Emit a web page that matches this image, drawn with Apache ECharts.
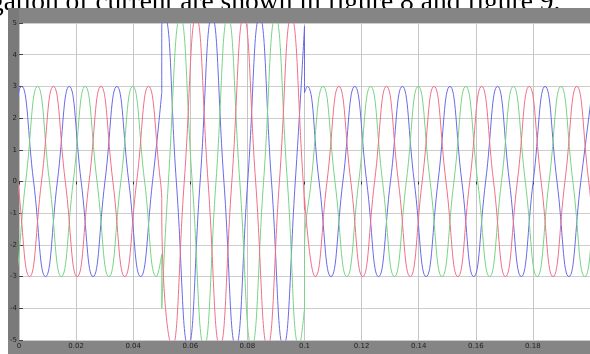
<!DOCTYPE html>
<html>
<head>
<meta charset="utf-8">
<script src="https://cdn.jsdelivr.net/npm/echarts@6/dist/echarts.min.js"></script>
<style>
  html, body { margin: 0; padding: 0; background: #ffffff; }
  #chart { width: 590px; height: 354px; }
</style>
</head>
<body>
<div id="chart"></div>
<script>
// Axis ticks: time in seconds, current in per-unit
const timeTicks = [0, 0.02, 0.04, 0.06, 0.08, 0.1, 0.12, 0.14, 0.16, 0.18, 0.2];
const currentTicks = [-5, -4, -3, -2, -1, 0, 1, 2, 3, 4, 5];

const phaseNames = ['Phase A', 'Phase B', 'Phase C'];
const lineFrequency = 60;                       // Hz
const firstPeakTime = [0.00094, 0.0065, 0.01205]; // first positive peak of each phase (s)
const switchTimes = [0.05, 0.1];                // fault inception, fault clearing (s)

// Signed peak of each half cycle, starting two half cycles before the first positive peak
const peaksA = [3, -3, 3, -3, 3, -3, 3, -3,
                5.2, -5.2, 5.2, -5.2, 5.2, -5.2,
                3, -3, 3, -3, 3, -3, 3, -3, 3, -3, 3, -3, 3];
const peaksB = [3, -3, 3, -3, 3, -3, 3, -3,
                5.2, -5.2, 5.2, -5.2, 5.2, -5.2,
                3, -3, 3, -3, 3, -3, 3, -3, 3, -3, 3, -3, 3];
const peaksC = [3, -3, 3, -3, 3, -3, 3,
                -5.2, 5.2, -5.2, 5.2, -5.2, 5.2,
                -3, 3, -3, 3, -3, 3, -3, 3, -3, 3, -3, 3, -3, 3];

// Instantaneous current on either side of each switching instant
const onsetBefore = [2.8, -2.3, -0.5];
const onsetAfter  = [4.9, -4.0, -0.9];
const clearBefore = [4.9, -4.0, -0.9];
const clearAfter  = [2.8, -2.3, -0.5];

const phasePeaks = [peaksA, peaksB, peaksC];
const phaseColors = ['#6a6ae8', '#78d484', '#f07088'];

// Quarter-cycle points (peaks and zero crossings) split at the switching instants
function phaseData(p) {
  const half = 1 / lineFrequency / 2;
  const pts = [];
  phasePeaks[p].forEach(function (v, i) {
    const t = firstPeakTime[p] + (i - 2) * half;
    pts.push([t, v]);
    if (i < phasePeaks[p].length - 1) pts.push([t + half / 2, 0]);
  });
  const t1 = switchTimes[0], t2 = switchTimes[1];
  const pre = pts.filter(function (d) { return d[0] < t1; });
  const fault = pts.filter(function (d) { return d[0] > t1 && d[0] < t2; });
  const post = pts.filter(function (d) { return d[0] > t2; });
  return [].concat(
    pre, [[t1, onsetBefore[p]], [t1, null]],
    [[t1, onsetBefore[p]], [t1, onsetAfter[p]]], fault, [[t2, clearBefore[p]], [t2, null]],
    [[t2, clearBefore[p]], [t2, clearAfter[p]]], post
  );
}

const chart = echarts.init(document.getElementById('chart'), null, { renderer: 'canvas' });

const frameGray = '#858585';
chart.setOption({
  animation: false,
  backgroundColor: '#ffffff',
  grid: { left: 19, top: 23, width: 575, height: 317, show: false },
  xAxis: {
    type: 'value',
    min: timeTicks[0],
    max: timeTicks[timeTicks.length - 1],
    interval: timeTicks[1] - timeTicks[0],
    axisLine: { show: false },
    axisTick: { show: true, inside: false, length: 3, lineStyle: { color: '#333' } },
    axisLabel: {
      margin: 3, fontSize: 7, color: '#222', fontFamily: 'DejaVu Sans',
      showMaxLabel: false,
      formatter: function (v) { return String(+v.toFixed(2)); }
    },
    splitLine: { show: true, lineStyle: { color: '#c6c6c6', width: 1 } }
  },
  yAxis: {
    type: 'value',
    min: currentTicks[0],
    max: currentTicks[currentTicks.length - 1],
    interval: currentTicks[1] - currentTicks[0],
    axisLine: { show: false },
    axisTick: { show: true, inside: true, length: 4, lineStyle: { color: '#444' } },
    axisLabel: { margin: 2, fontSize: 7, color: '#222', fontFamily: 'DejaVu Sans' },
    splitLine: { show: true, lineStyle: { color: '#cdcdcd', width: 1 } }
  },
  series: phaseNames.map(function (name, p) {
    return {
      name: name,
      type: 'line',
      data: phaseData(p),
      smooth: 0.5,
      showSymbol: false,
      connectNulls: false,
      clip: true,
      lineStyle: { color: phaseColors[p], width: 1 },
      z: 3 + p
    };
  }),
  graphic: [
    { type: 'rect', z: -10, shape: { x: 8, y: 8, width: 582, height: 15 }, style: { fill: frameGray } },
    { type: 'rect', z: -10, shape: { x: 8, y: 8, width: 11, height: 346 }, style: { fill: '#7a7a7a' } },
    { type: 'rect', z: -10, shape: { x: 8, y: 340, width: 582, height: 14 }, style: { fill: frameGray } },
    {
      type: 'text', z: -20, x: -10, y: 17,
      style: {
        text: 'gation of current are shown in figure 8 and figure 9.',
        font: '27.5px "Liberation Serif", "Times New Roman", serif',
        fill: '#000000',
        verticalAlign: 'bottom'
      }
    }
  ]
});
</script>
</body>
</html>
